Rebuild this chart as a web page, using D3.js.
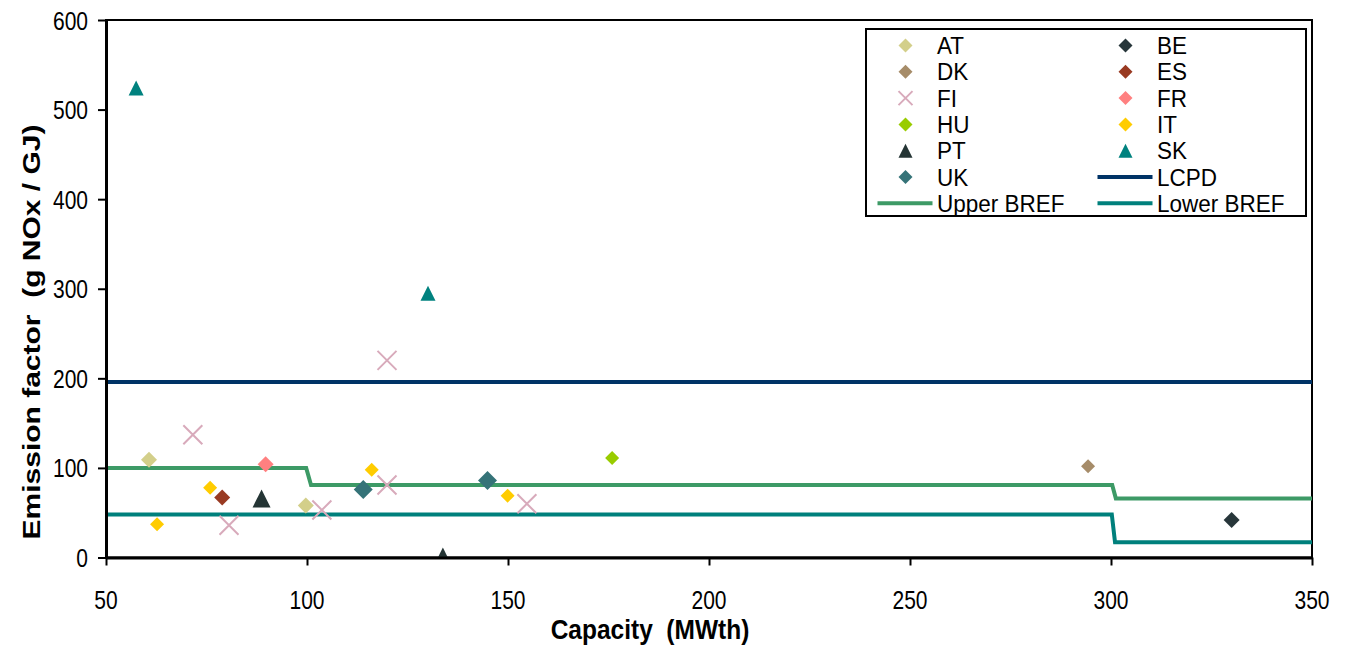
<!DOCTYPE html>
<html>
<head>
<meta charset="utf-8">
<script src="https://cdn.jsdelivr.net/npm/d3@7"></script>
<style>
  html, body { margin: 0; padding: 0; background: #fff; }
  svg text { font-family: "Liberation Sans", Arial, sans-serif; white-space: pre; fill: #000; }
</style>
</head>
<body>
<svg id="chart" width="1351" height="646"></svg>
<script>
// ---- data ----
const countries = ["AT","BE","DK","ES","FI","FR","HU","IT","PT","SK","UK"];
const capAT = [60.7, 99.7];            const efAT = [109, 58];
const capBE = [330];                   const efBE = [42];
const capDK = [294.3];                 const efDK = [102];
const capES = [78.9];                  const efES = [67];
const capFI = [71.6, 80.6, 103.7, 119.9, 119.9, 154.7];
const efFI  = [137, 36, 53, 220, 81, 60];
const capFR = [89.7];                  const efFR = [104];
const capHU = [175.9];                 const efHU = [111];
const capIT = [62.7, 75.9, 116.1, 149.9];
const efIT  = [37, 78, 98, 69];
const capPT = [88.7, 133.8];           const efPT = [66, 1];
const capSK = [57.5, 130.1];           const efSK = [524, 295];
const capUK = [114, 144.9];            const efUK = [76, 86];

const lcpdCap  = [50, 350];            const lcpdEF  = [196, 196];
const upperCap = [50, 99.8, 101, 300.3, 301.2, 350];
const upperEF  = [100, 100, 81, 81, 66, 66];
const lowerCap = [50, 300.2, 301, 350];
const lowerEF  = [48, 48, 17, 17];

const xTicks = [50, 100, 150, 200, 250, 300, 350];
const yTicks = [0, 100, 200, 300, 400, 500, 600];

// ---- styles ----
const style = {
  AT: {shape: "diamond", color: "#d3cf8a", r: 8},
  BE: {shape: "diamond", color: "#27363a", r: 8},
  DK: {shape: "diamond", color: "#a68c69", r: 7},
  ES: {shape: "diamond", color: "#993a22", r: 8},
  FI: {shape: "x",       color: "#d8aabb", r: 9.5},
  FR: {shape: "diamond", color: "#ff8080", r: 8},
  HU: {shape: "diamond", color: "#99cc00", r: 7},
  IT: {shape: "diamond", color: "#ffcc00", r: 7},
  PT: {shape: "triangle",color: "#253535", r: 9},
  SK: {shape: "triangle",color: "#00827f", r: 7.5},
  UK: {shape: "diamond", color: "#357378", r: 9.5}
};
const dataMap = {
  AT: [capAT, efAT], BE: [capBE, efBE], DK: [capDK, efDK], ES: [capES, efES],
  FI: [capFI, efFI], FR: [capFR, efFR], HU: [capHU, efHU], IT: [capIT, efIT],
  PT: [capPT, efPT], SK: [capSK, efSK], UK: [capUK, efUK]
};
const lines = [
  {name: "LCPD",       cap: lcpdCap,  ef: lcpdEF,  color: "#003366"},
  {name: "Upper BREF", cap: upperCap, ef: upperEF, color: "#3d9a66"},
  {name: "Lower BREF", cap: lowerCap, ef: lowerEF, color: "#00807c"}
];

const L = 106, R = 1312, T = 20, B = 557.5;
const svg = d3.select("#chart");
const x = d3.scaleLinear().domain([50, 350]).range([L, R]);
const y = d3.scaleLinear().domain([0, 600]).range([B, T]);

function addText(g, tx, ty, str, size, anchor, bold, stretch, rot) {
  return g.append("text")
    .attr("transform", `translate(${tx},${ty}) scale(1,${stretch})` + (rot ? ` rotate(${rot})` : ""))
    .attr("text-anchor", anchor || "start")
    .attr("font-size", size)
    .attr("font-weight", bold ? "bold" : "normal")
    .text(str);
}
function markerPath(shape, r) {
  if (shape === "diamond") return `M0,${-r}L${r},0L0,${r}L${-r},0Z`;
  if (shape === "triangle") return `M0,${-r}L${r},${r}L${-r},${r}Z`;
  return `M${-r},${-r}L${r},${r}M${r},${-r}L${-r},${r}`;
}
function drawMarker(g, s, r, cx, cy) {
  const p = g.append("path").attr("d", markerPath(s.shape, r))
    .attr("transform", `translate(${cx},${cy})`);
  if (s.shape === "x") p.attr("fill", "none").attr("stroke", s.color).attr("stroke-width", 2);
  else p.attr("fill", s.color);
}

svg.append("defs").append("clipPath").attr("id", "clip")
  .append("rect").attr("x", L).attr("y", T).attr("width", R - L).attr("height", B - T);

// frame
svg.append("rect").attr("x", L).attr("y", T).attr("width", R - L).attr("height", B - T)
  .attr("fill", "none").attr("stroke", "#000").attr("stroke-width", 2);

// lines
const plot = svg.append("g").attr("clip-path", "url(#clip)");
const lineGen = d3.line().x(d => x(d[0])).y(d => y(d[1]));
lines.forEach(l => {
  plot.append("path").datum(l.cap.map((c, i) => [c, l.ef[i]]))
    .attr("d", lineGen).attr("fill", "none").attr("stroke", l.color)
    .attr("stroke-width", 4).attr("stroke-linejoin", "miter");
});

// markers
countries.forEach(c => {
  const [cx, cy] = dataMap[c];
  cx.forEach((v, i) => drawMarker(plot, style[c], style[c].r, x(v), y(cy[i])));
});

// axes (lines + ticks via d3, labels drawn stretched)
const xAxis = svg.append("g").attr("transform", `translate(0,${B})`)
  .call(d3.axisBottom(x).tickValues(xTicks).tickSize(8).tickSizeOuter(0).tickFormat(""));
const yAxis = svg.append("g").attr("transform", `translate(${L},0)`)
  .call(d3.axisLeft(y).tickValues(yTicks).tickSize(8).tickSizeOuter(0).tickFormat(""));
[xAxis, yAxis].forEach(a => {
  a.select(".domain").attr("stroke", "#000").attr("stroke-width", 3);
  a.selectAll(".tick line").attr("stroke", "#000").attr("stroke-width", 2);
});
const labels = svg.append("g");
xTicks.forEach(t => addText(labels, x(t), 609, String(t), 21, "middle", false, 1.25));
yTicks.forEach(t => addText(labels, 88, y(t) + 9.5, String(t), 21, "end", false, 1.25));

// axis titles
addText(svg, 650, 639, "Capacity  (MWth)", 24.5, "middle", true, 1.15);
addText(svg, 40, 332, "Emission factor  (g NOx / GJ)", 24, "middle", true, 1.25, -90);

// legend
const lg = svg.append("g");
lg.append("rect").attr("x", 866).attr("y", 29).attr("width", 440).attr("height", 187)
  .attr("fill", "#fff").attr("stroke", "#000").attr("stroke-width", 2);
const legendItems = countries.map(c => ({name: c, type: "marker"}))
  .concat(lines.map(l => ({name: l.name, type: "line", color: l.color})));
legendItems.forEach((it, i) => {
  const col = i % 2, row = Math.floor(i / 2);
  const cy = 45.5 + row * 26.3;
  const mx = col === 0 ? 905.5 : 1125.5;
  const tx = col === 0 ? 937 : 1157;
  if (it.type === "marker") {
    drawMarker(lg, style[it.name], 7, mx, cy);
  } else {
    lg.append("line").attr("x1", mx - 28).attr("x2", mx + 27).attr("y1", cy).attr("y2", cy)
      .attr("stroke", it.color).attr("stroke-width", 4);
  }
  addText(lg, tx, cy + 8.5, it.name, 22.5, "start", false, 1.03);
});
</script>
</body>
</html>
